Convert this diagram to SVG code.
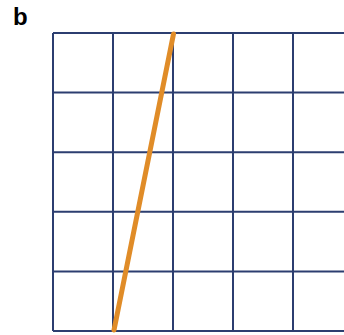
<svg xmlns="http://www.w3.org/2000/svg" width="344" height="335" viewBox="0 0 344 335">
<style>
.grid{stroke:#2c3e70;stroke-width:2;fill:none}
.lbl{font-family:"Liberation Sans",Arial,sans-serif;font-weight:bold;font-size:24px;fill:#000}
</style>
<rect width="344" height="335" fill="#fff"/>
<text class="lbl" x="13" y="25">b</text>
<g id="grid" class="grid">
<path d="M53,33H344M53,92.6H344M53,152.2H344M53,211.8H344M53,271.4H344M53,331H344"/>
<path d="M53,33V331M113,33V331M173,33V331M233,33V331M293,33V331"/>
</g>
<g id="line">
<line x1="173.5" y1="34" x2="114" y2="330" stroke="#e08c28" stroke-width="5" stroke-linecap="round"/>
</g>
</svg>
